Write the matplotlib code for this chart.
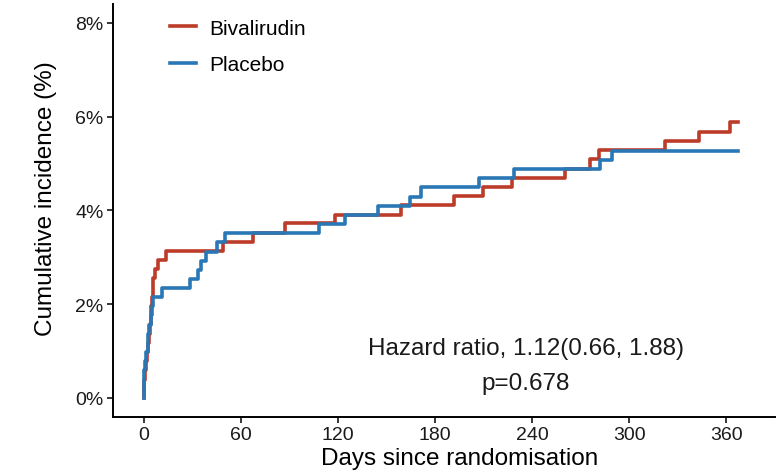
import matplotlib
matplotlib.use("Agg")
import matplotlib.pyplot as plt
from matplotlib.ticker import FuncFormatter

plt.rcParams['font.family'] = ['Liberation Sans', 'DejaVu Sans']

# Bivalirudin (red) step curve: days and cumulative incidence (%)
biv_days = [0, 0, 0, 1, 1.5, 2, 2.5, 3.2, 3.8, 4.3, 4.8, 5.2, 5.7, 5.7, 7.3, 8.8,
            13.9, 49.1, 67.5, 87.5, 118.4, 159.2, 191.5, 209.4, 227.5, 260.5,
            276, 281, 322.3, 343.3, 362.5, 367]
biv_inc = [0, 0.20, 0.39, 0.59, 0.78, 0.98, 1.17, 1.37, 1.57, 1.76, 1.96, 2.15,
           2.35, 2.55, 2.74, 2.94, 3.13, 3.33, 3.52, 3.72, 3.91, 4.11, 4.30,
           4.50, 4.70, 4.89, 5.09, 5.29, 5.48, 5.68, 5.88, 5.88]

# Placebo (blue) step curve
pla_days = [0, 0, 1, 1.5, 2.5, 3, 3.5, 4.5, 5, 5.6, 11.4, 28.7, 33.7, 35.5, 38.6,
            45.4, 50.4, 108.5, 124.5, 144.5, 164.7, 171.3, 207, 228.6, 282.2,
            289.4, 367]
pla_inc = [0, 0.59, 0.78, 0.98, 1.17, 1.37, 1.56, 1.76, 1.95, 2.15, 2.34, 2.54,
           2.73, 2.93, 3.12, 3.32, 3.51, 3.71, 3.90, 4.10, 4.29, 4.49, 4.68,
           4.88, 5.07, 5.27, 5.27]

x_ticks = [0, 60, 120, 180, 240, 300, 360]
y_ticks = [0, 2, 4, 6, 8]

hr_text = 'Hazard ratio, 1.12(0.66, 1.88)'
p_text = 'p=0.678'

RED = "#BC3C29"
BLUE = "#2A77B5"

fig = plt.figure(figsize=(7.82, 4.77), dpi=100)
ax = fig.add_axes([0.1449, 0.1243, 0.991 - 0.1449, 0.9895 - 0.1243])

ax.step(biv_days, biv_inc, where='post', color=RED, lw=2.6, label='Bivalirudin')
ax.step(pla_days, pla_inc, where='post', color=BLUE, lw=2.6, label='Placebo')

ax.set_xlim(-18.7, 390)
ax.set_ylim(-0.4, 8.4)
ax.set_xticks(x_ticks)
ax.set_yticks(y_ticks)
ax.yaxis.set_major_formatter(FuncFormatter(lambda v, p: f"{int(v)}%"))

for s in ['top', 'right']:
    ax.spines[s].set_visible(False)
for s in ['left', 'bottom']:
    ax.spines[s].set_linewidth(1.4)
    ax.spines[s].set_color('black')

ax.tick_params(axis='both', length=4, width=1.1, color='black',
               labelsize=14, labelcolor='#1a1a1a', pad=3)

ax.set_xlabel('Days since randomisation', fontsize=17.5, color='black')
ax.xaxis.set_label_coords(0.524, -0.0734)
ax.set_ylabel('Cumulative incidence (%)', fontsize=17.5, color='black')
ax.yaxis.set_label_coords(-0.085, 0.53)

leg = ax.legend(loc='upper left', bbox_to_anchor=(0.058, 1.01), frameon=False,
                fontsize=15, handlelength=1.25, handletextpad=0.6,
                labelspacing=0.84)
for line in leg.get_lines():
    line.set_linewidth(2.6)

ax.text(236, 0.938, hr_text, ha='center', va='baseline', fontsize=17.5,
        color='#1a1a1a')
ax.text(236, 0.192, p_text, ha='center', va='baseline', fontsize=17.5,
        color='#1a1a1a')

fig.savefig('out.png', dpi=100)
